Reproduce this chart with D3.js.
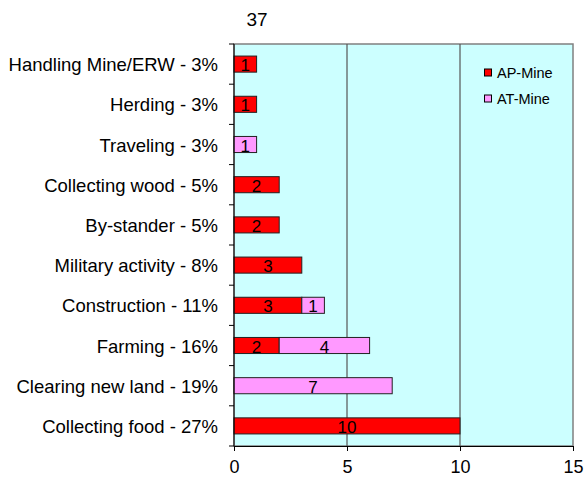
<!DOCTYPE html>
<html><head><meta charset="utf-8">
<script src="https://cdn.jsdelivr.net/npm/d3@7"></script>
<style>body{margin:0;background:#fff}svg{display:block;font-family:"Liberation Sans",Arial,sans-serif}</style>
</head><body><svg id="c" width="586" height="480"></svg>
<script>
const categories = ["Handling Mine/ERW - 3%","Herding - 3%","Traveling - 3%","Collecting wood - 5%","By-stander - 5%","Military activity - 8%","Construction - 11%","Farming - 16%","Clearing new land - 19%","Collecting food - 27%"];
const apMine = [1,1,0,2,2,3,3,2,0,10];
const atMine = [0,0,1,0,0,0,1,4,7,0];
const seriesNames = ["AP-Mine","AT-Mine"];
const seriesColors = ["#FF0000","#FF99FF"];
const xTicks = [0,5,10,15];
const title = "37";

const svg = d3.select("#c");
const L=234, R=573, T=44, B=446;
const x = d3.scaleLinear().domain([0,15]).range([L,R]);
const y = d3.scaleBand().domain(categories).range([T,B]).paddingInner(0.6).paddingOuter(0.3);
const yb = d3.scaleBand().domain(categories).range([T,B]);

svg.append("rect").attr("x",L).attr("y",T).attr("width",R-L).attr("height",B-T).attr("fill","#CCFFFF").attr("stroke","#808080").attr("stroke-width",1.5);
svg.append("g").selectAll("line").data(xTicks.slice(1,-1)).join("line")
  .attr("x1",d=>x(d)).attr("x2",d=>x(d)).attr("y1",T).attr("y2",B).attr("stroke","#555").attr("stroke-width",1.2);

const data = categories.map((c,i)=>({c, ap:apMine[i], at:atMine[i]}));
const stack = d3.stack().keys(["ap","at"])(data);
stack.forEach((s,si)=>{
  const g = svg.append("g");
  s.forEach((d,i)=>{
    const v = d[1]-d[0];
    if(v<=0) return;
    g.append("rect").attr("x",x(d[0])).attr("y",y(categories[i])).attr("width",x(d[1])-x(d[0])).attr("height",y.bandwidth())
      .attr("fill",seriesColors[si]).attr("stroke","#222").attr("stroke-width",1);
    g.append("text").attr("x",(x(d[0])+x(d[1]))/2).attr("y",y(categories[i])+y.bandwidth()/2+7)
      .attr("text-anchor","middle").attr("font-size",17).attr("fill","#000").text(v);
  });
});

// axes
const xAxis = d3.axisBottom(x).tickValues(xTicks).tickSize(5).tickPadding(9);
const gx = svg.append("g").attr("transform",`translate(0,${B})`).call(xAxis);
gx.select(".domain").attr("stroke","#000");
gx.selectAll(".tick line").attr("stroke","#000");
gx.selectAll("text").attr("font-size",18).attr("font-family","Liberation Sans, Arial, sans-serif").attr("fill","#000");

svg.append("line").attr("x1",L).attr("x2",L).attr("y1",T).attr("y2",B).attr("stroke","#000");
svg.append("g").selectAll("line").data(categories.concat(["__end"])).join("line")
  .attr("x1",L-5).attr("x2",L).attr("y1",(d,i)=>T+i*yb.step()).attr("y2",(d,i)=>T+i*yb.step()).attr("stroke","#000");
svg.append("g").selectAll("text").data(categories).join("text")
  .attr("x",218).attr("y",d=>yb(d)+yb.bandwidth()/2+7).attr("text-anchor","end").attr("font-size",18.5).attr("fill","#000").text(d=>d);

svg.append("text").attr("x",257).attr("y",26).attr("text-anchor","middle").attr("font-size",19).text(title);

const lg = svg.append("g");
seriesNames.forEach((n,i)=>{
  const yy = 72 + i*26;
  lg.append("rect").attr("x",484.5).attr("y",yy-3).attr("width",7).attr("height",7).attr("fill",seriesColors[i]).attr("stroke","#000");
  lg.append("text").attr("x",497).attr("y",yy+5.5).attr("font-size",14.5).text(n);
});
</script></body></html>
